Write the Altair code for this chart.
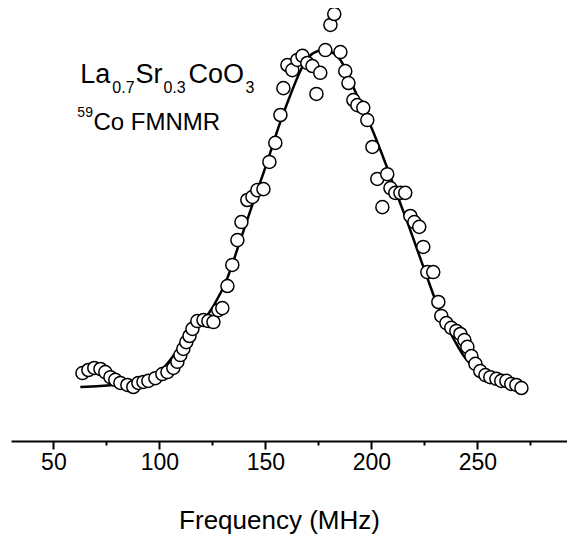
import altair as alt
import pandas as pd

# Measured spectrum: frequency (MHz) and spin-echo intensity (arb. units)
freq = [63.7, 66.5, 69.3, 72.2, 74.5, 76.9, 79.2, 81.6, 84.9, 87.7,
        90.1, 92.5, 94.8, 98.1, 101.4, 103.8, 106.6, 108.5, 109.9, 111.3,
        112.7, 114.2, 115.6, 117.9, 120.8, 123.1, 125.5, 127.8, 129.7, 132.1,
        134.4, 136.8, 138.7, 141.5, 143.9, 146.2, 149.1, 151.9, 154.7, 157.1,
        158.5, 160.4, 162.7, 165.1, 167.5, 169.8, 172.2, 174.1, 175.9, 178.3,
        180.7, 182.5, 185.4, 187.7, 189.2, 191.5, 193.4, 196.2, 198.1, 200.5,
        202.8, 205.2, 207.5, 209.0, 211.3, 213.7, 216.0, 218.4, 220.3, 222.6,
        224.5, 226.4, 229.2, 231.6, 233.0, 235.4, 237.7, 240.1, 242.0, 243.9,
        245.3, 247.2, 249.1, 251.4, 253.8, 256.1, 259.0, 261.3, 263.7, 266.0,
        268.4, 270.8]
intensity = [0.041, 0.050, 0.056, 0.053, 0.044, 0.029, 0.021, 0.012, 0.006, 0.000,
             0.012, 0.015, 0.018, 0.026, 0.038, 0.044, 0.056, 0.074, 0.094, 0.112,
             0.132, 0.150, 0.171, 0.194, 0.197, 0.194, 0.191, 0.226, 0.232, 0.297,
             0.359, 0.432, 0.485, 0.550, 0.559, 0.579, 0.582, 0.662, 0.718, 0.800,
             0.879, 0.947, 0.932, 0.962, 0.974, 0.953, 0.944, 0.862, 0.924, 0.991,
             1.065, 1.097, 0.985, 0.929, 0.894, 0.844, 0.829, 0.821, 0.785, 0.706,
             0.612, 0.529, 0.626, 0.585, 0.571, 0.571, 0.571, 0.503, 0.485, 0.471,
             0.412, 0.338, 0.338, 0.250, 0.209, 0.188, 0.174, 0.165, 0.156, 0.138,
             0.118, 0.091, 0.068, 0.047, 0.035, 0.029, 0.024, 0.018, 0.018, 0.009,
             0.006, -0.003]

# Fitted curve
fit_freq = [62.7, 72.2, 81.6, 91.0, 98.1, 102.8, 107.5, 112.3, 119.3, 125.5,
            132.1, 138.2, 144.3, 150.9, 156.1, 161.8, 167.9, 172.6, 177.4, 182.1,
            185.4, 191.5, 196.2, 200.5, 207.5, 212.7, 217.0, 221.7, 226.4, 231.1,
            237.3, 244.3, 251.4, 260.8, 270.3]
fit_int = [0.000, 0.003, 0.009, 0.018, 0.038, 0.062, 0.100, 0.147, 0.185, 0.238,
           0.321, 0.432, 0.544, 0.662, 0.762, 0.859, 0.947, 0.982, 0.991, 0.982,
           0.962, 0.882, 0.815, 0.756, 0.644, 0.556, 0.485, 0.403, 0.321, 0.241,
           0.159, 0.085, 0.038, 0.009, -0.006]

# Annotation pieces
ann_text = ["La", "0.7", "Sr", "0.3", "CoO", "3", "59", "Co FMNMR"]
ann_x = [62.7, 77.8, 88.7, 101.9, 113.7, 140.6, 61.3, 68.9]
ann_y = [0.894, 0.865, 0.894, 0.865, 0.894, 0.865, 0.794, 0.756]
ann_size = [27, 16, 27, 16, 27, 16, 14, 24]

x_ticks = [50, 75, 100, 125, 150, 175, 200, 225, 250, 275]

pts = pd.DataFrame({"f": freq, "i": intensity})
fit = pd.DataFrame({"f": fit_freq, "i": fit_int})
ann = pd.DataFrame({"t": ann_text, "f": ann_x, "i": ann_y, "s": ann_size})

FONT = "Liberation Sans"
xscale = alt.Scale(domain=[30, 292.3], nice=False, zero=False)
yscale = alt.Scale(domain=[-0.1588, 1.1147], nice=False, zero=False)

xaxis = alt.Axis(
    values=x_ticks,
    labelExpr="datum.value % 50 === 0 ? datum.label : ''",
    labelOverlap=False,
    tickSize={"condition": {"test": "datum.value % 50 === 0", "value": 8}, "value": 4},
    tickWidth=2,
    tickColor="black",
    domainColor="black",
    domainWidth=2,
    labelFont=FONT,
    labelFontSize=23,
    labelColor="black",
    labelPadding=2,
    title="Frequency (MHz)",
    titleFont=FONT,
    titleFontSize=26,
    titleFontWeight="normal",
    titleColor="black",
    titlePadding=33,
    titleX=268,
    grid=False,
)

line = alt.Chart(fit).mark_line(color="black", strokeWidth=2.5, interpolate="monotone").encode(
    x=alt.X("f:Q", scale=xscale, axis=xaxis),
    y=alt.Y("i:Q", scale=yscale, axis=None),
)

points = alt.Chart(pts).mark_point(
    shape="circle", filled=True, fill="white", stroke="black", strokeWidth=1.5, size=170, opacity=1
).encode(
    x=alt.X("f:Q", scale=xscale, axis=xaxis),
    y=alt.Y("i:Q", scale=yscale, axis=None),
)

texts = alt.Chart(ann).mark_text(align="left", baseline="alphabetic", font=FONT, color="black").encode(
    x=alt.X("f:Q", scale=xscale, axis=xaxis),
    y=alt.Y("i:Q", scale=yscale, axis=None),
    text="t:N",
    size=alt.Size("s:Q", scale=None, legend=None),
)

chart = alt.layer(line, points, texts).properties(
    width=556,
    height=433,
    autosize=alt.AutoSizeParams(type="none"),
    padding={"left": 3, "top": 0, "right": 0, "bottom": 96},
).configure(background="white").configure_view(stroke=None, strokeWidth=0)

chart.save("out.html", embed_options={"renderer": "svg", "actions": False})
